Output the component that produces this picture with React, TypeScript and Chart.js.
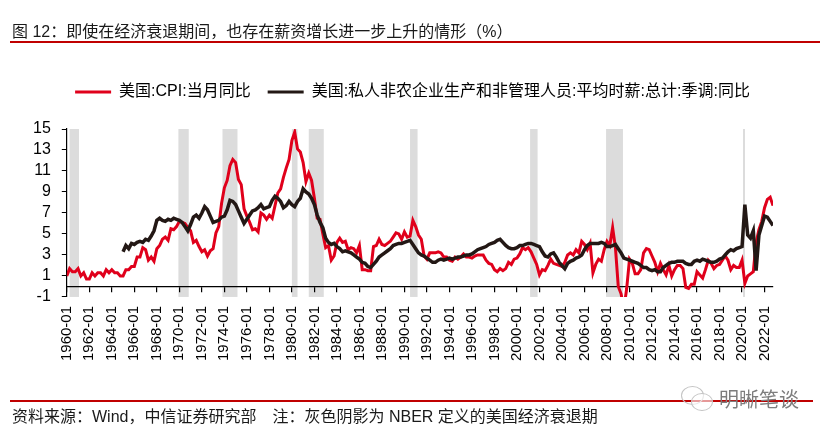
import { useEffect, useRef } from "react";
import { Chart, registerables } from "chart.js";
Chart.register(...registerables);

const FONT = "'Liberation Sans', 'Noto Sans CJK SC', sans-serif";
const RED = "#e0001b";
const BLACK = "#231815";

// quarterly samples (Jan / Apr / Jul / Oct), % yoy
const cpiStart = "1960-01";
const cpiYoY = [
  1.0, 1.7, 1.4, 1.4, // 1960
  1.7, 1.0, 1.3, 0.7,
  0.7, 1.3, 1.0, 1.3,
  1.3, 1.0, 1.6, 1.3,
  1.6, 1.3, 1.3, 1.0,
  1.0, 1.6, 1.6, 1.9, // 1965
  1.9, 2.8, 2.8, 3.7,
  3.5, 2.5, 2.8, 2.4,
  3.6, 3.9, 4.5, 4.7,
  4.4, 5.5, 5.4, 5.7,
  6.2, 6.1, 6.0, 5.6, // 1970
  5.3, 4.2, 4.4, 3.8,
  3.3, 3.5, 2.9, 3.4,
  3.6, 5.1, 5.7, 7.9,
  9.4, 10.1, 11.5, 12.1,
  11.8, 10.2, 9.7, 7.4, // 1975
  6.7, 6.1, 5.4, 5.5,
  5.2, 7.0, 6.8, 6.4,
  6.8, 6.5, 7.7, 8.9,
  9.3, 10.4, 11.3, 12.1,
  13.9, 14.7, 13.1, 12.8, // 1980
  11.8, 10.0, 10.8, 10.1,
  8.4, 6.5, 6.4, 5.0,
  3.7, 3.9, 2.5, 2.9,
  4.2, 4.6, 4.2, 4.3,
  3.5, 3.7, 3.6, 3.2, // 1985
  3.9, 1.6, 1.6, 1.5,
  1.5, 3.8, 3.9, 4.5,
  4.0, 3.9, 4.1, 4.3,
  4.7, 5.1, 5.0, 4.5,
  5.2, 4.7, 4.8, 6.3, // 1990
  5.7, 4.9, 4.5, 2.9,
  2.6, 3.2, 3.2, 3.2,
  3.3, 3.2, 2.8, 2.8,
  2.5, 2.4, 2.8, 2.6,
  2.8, 3.1, 2.8, 2.8, // 1995
  2.7, 2.9, 3.0, 3.0,
  3.0, 2.5, 2.2, 2.1,
  1.6, 1.4, 1.7, 1.5,
  1.7, 2.3, 2.1, 2.6,
  2.7, 3.1, 3.7, 3.5, // 2000
  3.7, 3.3, 2.7, 2.1,
  1.1, 1.6, 1.5, 2.0,
  2.6, 2.2, 2.1, 2.0,
  1.9, 2.3, 3.0, 3.2,
  3.0, 3.5, 3.2, 4.3, // 2005
  4.0, 3.5, 4.1, 1.3,
  2.1, 2.6, 2.4, 3.5,
  4.3, 3.9, 5.6, 3.7,
  0.0, -0.7, -2.1, -0.2,
  2.6, 2.2, 1.2, 1.2, // 2010
  1.6, 3.2, 3.6, 3.5,
  2.9, 2.3, 1.4, 2.2,
  1.6, 1.1, 2.0, 1.0,
  1.6, 2.0, 2.0, 1.7,
  -0.1, -0.2, 0.2, 0.2, // 2015
  1.4, 1.1, 0.8, 1.6,
  2.5, 2.2, 1.7, 2.0,
  2.1, 2.5, 2.9, 2.5,
  1.6, 2.0, 1.8, 1.8,
  2.5, 0.3, 1.0, 1.2, // 2020
  1.4, 4.2, 5.4, 6.2,
  7.5, 8.3, 8.5, 7.7,
];

const wageStart = "1965-01";
const wageYoY = [
  3.3, 3.9, 3.6, 4.1, // 1965
  4.0, 4.2, 4.3, 4.2,
  4.5, 4.4, 4.8, 5.3,
  6.3, 6.5, 6.3, 6.2,
  6.4, 6.3, 6.5, 6.4,
  6.3, 6.1, 5.7, 5.3, // 1970
  5.9, 6.6, 6.8, 6.5,
  7.0, 7.6, 7.3, 6.7,
  6.1, 6.2, 6.3, 6.6,
  6.7, 7.3, 8.2, 8.1,
  7.8, 7.2, 6.6, 6.0, // 1975
  6.4, 6.8, 7.2, 7.3,
  7.5, 7.8, 7.4, 7.5,
  7.6, 8.2, 8.6, 8.4,
  8.1, 7.5, 7.7, 8.1,
  7.8, 7.6, 8.1, 8.4, // 1980
  9.3, 9.0, 8.8, 8.4,
  7.8, 6.8, 6.1, 5.6,
  4.6, 4.2, 4.0, 4.1,
  3.8, 3.6, 3.3, 3.4,
  3.3, 3.2, 3.0, 2.8, // 1985
  2.6, 2.3, 2.2, 1.9,
  1.8, 2.1, 2.4, 2.8,
  3.0, 3.2, 3.4, 3.6,
  3.9, 4.0, 4.1, 4.1,
  4.2, 4.3, 4.4, 4.0, // 1990
  3.6, 3.2, 3.0, 2.9,
  2.7, 2.5, 2.3, 2.3,
  2.5, 2.6, 2.5, 2.6,
  2.7, 2.6, 2.7, 2.8,
  2.8, 2.9, 3.0, 3.0, // 1995
  3.1, 3.3, 3.5, 3.6,
  3.7, 3.8, 4.0, 4.1,
  4.2, 4.4, 4.5, 4.2,
  3.9, 3.7, 3.6, 3.6,
  3.7, 3.9, 3.9, 4.0, // 2000
  4.1, 4.1, 4.0, 3.9,
  3.8, 3.3, 2.9, 2.8,
  3.1, 3.2, 2.8, 2.3,
  2.0, 1.7, 2.2, 2.4,
  2.5, 2.7, 2.8, 3.0, // 2005
  3.5, 3.9, 4.1, 4.1,
  4.1, 4.1, 4.2, 4.1,
  3.8, 3.8, 3.9, 4.0,
  3.6, 3.2, 2.7, 2.6,
  2.5, 2.4, 2.3, 2.2, // 2010
  2.0, 1.8, 1.8, 1.6,
  1.5, 1.6, 1.4, 1.4,
  1.8, 2.0, 2.2, 2.3,
  2.3, 2.4, 2.4, 2.4,
  2.2, 2.1, 2.1, 2.4, // 2015
  2.5, 2.4, 2.6, 2.5,
  2.4, 2.3, 2.3, 2.4,
  2.6, 2.7, 3.0, 3.3,
  3.5, 3.4, 3.6, 3.7,
  3.8, 7.8, 4.9, 4.6, // 2020
  5.3, 1.5, 4.9, 5.8,
  6.7, 6.6, 6.2, 5.8,
];

const lastMonth = "2022-10";

// NBER recessions (peak month -> trough month)
const recessionStart = ["1960-04", "1969-12", "1973-11", "1980-01", "1981-07", "1990-07", "2001-03", "2007-12", "2020-02"];
const recessionEnd = ["1961-02", "1970-11", "1975-03", "1980-07", "1982-11", "1991-03", "2001-11", "2009-06", "2020-04"];

const yMin = -1;
const yMax = 15;
const yStep = 2;
const xStep = 2;

const ym = (s: string) => {
  const [y, m] = s.split("-").map(Number);
  return y + (m - 1) / 12;
};
const toPoints = (start: string, vals: number[]) =>
  vals.map((v, i) => ({ x: ym(start) + i / 4, y: v }));

const recessionBands = {
  id: "recessionBands",
  beforeDraw(chart: any) {
    const { ctx, chartArea: a, scales } = chart;
    const x = scales.x;
    ctx.save();
    ctx.fillStyle = "#dcdcdc";
    recessionStart.forEach((s, i) => {
      const x0 = x.getPixelForValue(ym(s));
      const x1 = x.getPixelForValue(ym(recessionEnd[i]));
      ctx.fillRect(x0, a.top, Math.max(x1 - x0, 2), a.bottom - a.top);
    });
    ctx.restore();
  },
};

// extra room under the legend, and nudge it right
const legendTweak = {
  id: "legendTweak",
  beforeInit(chart: any) {
    if (!chart.legend) return;
    const fit = chart.legend.fit;
    chart.legend.fit = function () {
      fit.call(this);
      this.height += 19;
      this.lineWidths = this.lineWidths.map((w: number) => w - 30);
    };
  },
};

function WageCpiChart() {
  const ref = useRef<HTMLCanvasElement>(null);
  const inst = useRef<Chart | null>(null);
  useEffect(() => {
    if (!ref.current) return;
    Chart.defaults.font.family = FONT;
    Chart.defaults.color = "#000";
    const xMin = ym(cpiStart);
    const xMax = ym(lastMonth);
    inst.current = new Chart(ref.current, {
      type: "line",
      data: {
        datasets: [
          {
            label: "美国:CPI:当月同比",
            data: toPoints(cpiStart, cpiYoY),
            borderColor: RED,
            backgroundColor: RED,
            borderWidth: 3,
            pointRadius: 0,
            xAxisID: "x",
            order: 1,
          },
          {
            label: "美国:私人非农企业生产和非管理人员:平均时薪:总计:季调:同比",
            data: toPoints(wageStart, wageYoY),
            borderColor: BLACK,
            backgroundColor: BLACK,
            borderWidth: 3.5,
            pointRadius: 0,
            xAxisID: "x",
            order: 0,
          },
        ],
      },
      options: {
        animation: false,
        responsive: true,
        maintainAspectRatio: false,
        events: [],
        layout: { padding: { top: 67, left: 22, right: 52, bottom: 64 } },
        plugins: {
          tooltip: { enabled: false },
          legend: {
            position: "top",
            labels: {
              boxWidth: 36,
              boxHeight: 3,
              padding: 17,
              color: "#000",
              font: { size: 16 },
              sort: (a: any, b: any) => a.datasetIndex - b.datasetIndex,
              generateLabels: (chart: any) =>
                Chart.defaults.plugins.legend.labels
                  .generateLabels(chart)
                  .map((l: any) => ({ ...l, lineWidth: 0 })),
            },
          },
        },
        scales: {
          x: {
            type: "linear",
            min: xMin,
            max: xMax,
            border: { display: false },
            grid: { display: false, drawTicks: false },
            ticks: {
              stepSize: xStep,
              includeBounds: false,
              autoSkip: false,
              minRotation: 90,
              maxRotation: 90,
              padding: 9,
              color: "#000",
              font: { size: 15 },
              callback: (v: any) => `${v}-01`,
            },
          },
          // the axis line sits on zero, with its tick marks hanging down
          x0: {
            axis: "x",
            type: "linear",
            position: { y: 0 },
            min: xMin,
            max: xMax,
            border: { color: "#000", width: 1.3 },
            grid: { drawOnChartArea: false, drawTicks: true, tickLength: 5, color: "#000", lineWidth: 1.2 },
            ticks: { display: false, stepSize: xStep, includeBounds: false },
          },
          y: {
            min: yMin,
            max: yMax,
            border: { color: "#000", width: 1.2 },
            grid: { drawOnChartArea: false, drawTicks: true, tickLength: 5, color: "#000" },
            ticks: { stepSize: yStep, autoSkip: false, padding: 11, color: "#000", font: { size: 16 } },
          },
        },
      },
      plugins: [recessionBands, legendTweak],
    } as any);
    return () => inst.current?.destroy();
  }, []);
  return <canvas ref={ref} />;
}

const textStyle = {
  position: "absolute" as const,
  fontFamily: FONT,
  whiteSpace: "nowrap" as const,
  color: "#1a1a1a",
  pointerEvents: "none" as const,
};

export default function App() {
  return (
    <div style={{ position: "absolute", left: 0, top: 0, width: 825, height: 434, background: "#fff", overflow: "hidden" }}>
      <div style={{ position: "absolute", left: 0, top: 0, width: 825, height: 434 }}>
        <WageCpiChart />
      </div>
      <div style={{ ...textStyle, left: 12, top: 22, fontSize: 16, lineHeight: "20px" }}>
        图 12：即使在经济衰退期间，也存在薪资增长进一步上升的情形（%）
      </div>
      <div style={{ position: "absolute", left: 10, top: 41, width: 810, height: 1.5, background: "#c00000" }} />
      <div style={{ position: "absolute", left: 10, top: 400, width: 803, height: 1.5, background: "#c00000" }} />
      <div style={{ position: "absolute", left: 681, top: 386, width: 21, height: 17, border: "1px solid #c4c4c4", borderRadius: "50%" }} />
      <div style={{ position: "absolute", left: 691, top: 393, width: 20, height: 16, border: "1px solid #c4c4c4", borderRadius: "50%", background: "rgba(255,255,255,0.6)" }} />
      <div style={{ ...textStyle, left: 719, top: 388, fontSize: 20, lineHeight: "24px", color: "#7d7d7d" }}>
        明晰笔谈
      </div>
      <div style={{ ...textStyle, left: 12, top: 407, fontSize: 16, lineHeight: "20px" }}>
        资料来源：Wind，中信证券研究部　注：灰色阴影为 NBER 定义的美国经济衰退期
      </div>
    </div>
  );
}
